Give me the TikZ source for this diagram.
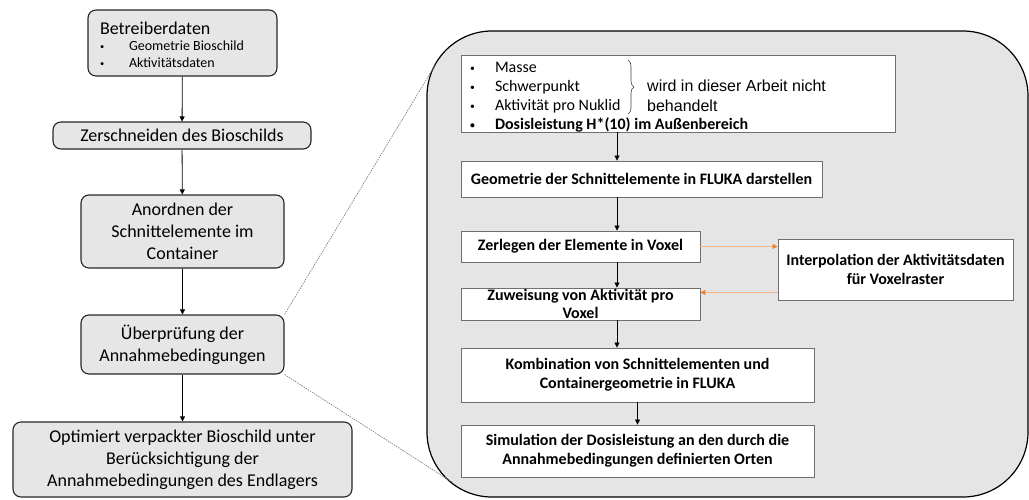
\documentclass[tikz,border=0pt]{standalone}
\usepackage{fontspec}
\usepackage{graphicx}
\setmainfont{Carlito}
\newfontfamily\arialfont{Liberation Sans}
\usetikzlibrary{arrows.meta,decorations.pathreplacing}
\definecolor{boxgrey}{HTML}{E7E6E6}
\definecolor{bggrey}{HTML}{E5E5E5}
\definecolor{edgegrey}{HTML}{6F6F6F}
\definecolor{orline}{HTML}{F4B183}
\definecolor{orhead}{HTML}{ED7D31}
\newcommand\blt{\raisebox{0.08em}{\scalebox{0.6}{\textbullet}}}
\begin{document}
\begin{tikzpicture}[x=1pt,y=-1pt,>={Triangle[length=5pt,width=5pt]},
  grey/.style={draw=black!85,line width=1.1pt,fill=boxgrey,rounded corners=8pt,inner sep=0pt,align=center,font=\fontsize{18}{22}\selectfont},
  white/.style={draw=edgegrey,line width=0.9pt,fill=white,inner sep=0pt,align=center,font=\bfseries\fontsize{16}{19}\selectfont},
  zoomline/.style={draw=black!55,line width=0.6pt,dash pattern=on 1.5pt off 1pt},
  orarrow/.style={draw=orline,line width=1pt,-{Triangle[length=5pt,width=5pt,color=orhead]}}]
  \useasboundingbox (0,0) rectangle (1029,499);
  \draw[line width=1.2pt,fill=bggrey,rounded corners=65pt] (427,31) rectangle (1028,497);
  \node[grey,minimum width=189pt,minimum height=66pt,font=\fontsize{14}{16.5}\selectfont] (betr) at (182.5,43)
    {\raisebox{-4pt}[\height][\depth]{\begin{tabular}{@{}p{29pt}@{}p{136pt}@{}}
      \multicolumn{2}{@{}l@{}}{\fontsize{18}{16}\selectfont Betreiberdaten}\\
      \blt & Geometrie Bioschild\\
      \blt & Aktivitätsdaten
    \end{tabular}}};
  \node[grey,minimum width=258pt,minimum height=27pt] (zers) at (182,135.5) {Zerschneiden des Bioschilds};
  \node[grey,minimum width=203pt,minimum height=73pt] (anord) at (182.5,231.5) {Anordnen der\\Schnittelemente im\\Container};
  \node[grey,minimum width=203pt,minimum height=59pt] (ueber) at (182.5,344.5) {Überprüfung der\\Annahmebedingungen};
  \node[grey,minimum width=339pt,minimum height=75pt] (opt) at (182.5,459.5) {Optimiert verpackter Bioschild unter\\Berücksichtigung der\\Annahmebedingungen des Endlagers};
  \foreach \a/\b in {betr/zers,zers/anord,anord/ueber,ueber/opt} {\draw[->,line width=0.8pt] (\a)--(\b);}
  \node[white,minimum height=77pt,inner xsep=9pt,font=\fontsize{16}{19}\selectfont] (list) at (678,93.5)
    {\raisebox{-4pt}[\height][\depth]{\begin{tabular}{@{}p{25pt}@{}p{391pt}@{}}
      \blt & Masse\\
      \blt & Schwerpunkt\\
      \blt & Aktivität pro Nuklid\\
      \textbf{\blt} & \textbf{Dosisleistung H*(10) im Außenbereich}
    \end{tabular}}};
  \draw[black!75,line width=0.6pt,decorate,decoration={brace,amplitude=6pt}] (628,60)--(628,114);
  \node[anchor=west,inner sep=0pt,align=left,font=\arialfont\fontsize{16}{20}\selectfont] (note) at (647,96) {wird in dieser Arbeit nicht\\behandelt};
  \node[white,minimum width=361pt,minimum height=36pt] (geo) at (641.5,179) {Geometrie der Schnittelemente in FLUKA darstellen};
  \node[white,minimum width=239pt,minimum height=31pt] (zerl) at (580.5,246.5) {Zerlegen der Elemente in Voxel};
  \node[white,minimum width=239pt,minimum height=32pt,font=\bfseries\fontsize{16}{18}\selectfont] (zuw) at (580.5,304) {Zuweisung von Aktivität pro\\Voxel};
  \node[white,minimum width=235pt,minimum height=61pt] (interp) at (895.5,269.5) {Interpolation der Aktivitätsdaten\\für Voxelraster};
  \node[white,minimum width=353pt,minimum height=54pt] (komb) at (637.5,375) {Kombination von Schnittelementen und\\Containergeometrie in FLUKA};
  \node[white,minimum width=353pt,minimum height=52pt] (sim) at (637.5,451) {Simulation der Dosisleistung an den durch die\\Annahmebedingungen definierten Orten};
  \coordinate (mid) at (617,0);
  \foreach \a/\b in {list/geo,geo/zerl,zerl/zuw,zuw/komb} {\draw[->,line width=0.8pt] (\a.south -| mid)--(\b.north -| mid);}
  \draw[->,line width=0.8pt] (komb)--(sim);
  \draw[orarrow] (zerl.east)--(zerl.east -| interp.west);
  \draw[orarrow] ([yshift=8pt]interp.south west)--([yshift=8pt]interp.south west -| zuw.east);
  \coordinate (zt) at (437,62);
  \coordinate (zb) at (452,482);
  \draw[zoomline] (ueber.north east)--(zt);
  \draw[zoomline] (ueber.south east)--(zb);
\end{tikzpicture}
\end{document}
